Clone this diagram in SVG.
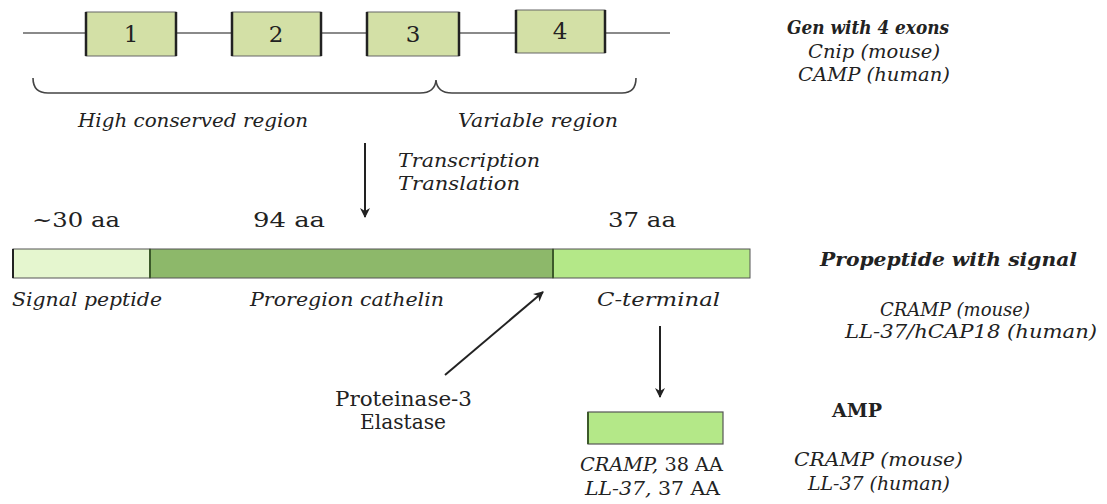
<svg xmlns="http://www.w3.org/2000/svg" width="1107" height="504" viewBox="0 0 1107 504">
<style>
  text { font-family: "DejaVu Serif", "Liberation Serif", serif; fill: #222; }
  .it { font-style: italic; font-size: 18px; }
  .bi { font-style: italic; font-weight: bold; font-size: 18px; }
  .rg { font-size: 20px; }
  .num { font-size: 23px; text-anchor: middle; }
  .exon { fill: #d3e0a6; stroke: #666; stroke-width: 1; }
  .edge { stroke: #222; stroke-width: 2.5; }
  .conn { stroke: #222; stroke-width: 2; fill: none; }
</style>
<defs>
  <marker id="ah" viewBox="0 0 10 10" refX="9" refY="5" markerWidth="5" markerHeight="5" orient="auto-start-reverse">
    <path d="M0,0 L10,5 L0,10 L3,5 z" fill="#222"/>
  </marker>
</defs>
<rect width="1107" height="504" fill="#fff"/>

<g id="gene">
  <line x1="23" y1="33" x2="670" y2="33" stroke="#8a8a8a" stroke-width="2"/>
</g>
<g id="exon1"><rect class="exon" x="86" y="12" width="90" height="44"/><line class="edge" x1="86" y1="12" x2="86" y2="56"/><line class="edge" x1="176" y1="12" x2="176" y2="56"/><text class="num" x="131" y="42">1</text></g>
<g id="exon2"><rect class="exon" x="232" y="12" width="89" height="44"/><line class="edge" x1="232" y1="12" x2="232" y2="56"/><line class="edge" x1="321" y1="12" x2="321" y2="56"/><text class="num" x="276" y="42">2</text></g>
<g id="exon3"><rect class="exon" x="367" y="12" width="92" height="44"/><line class="edge" x1="367" y1="12" x2="367" y2="56"/><line class="edge" x1="459" y1="12" x2="459" y2="56"/><text class="num" x="413" y="42">3</text></g>
<g id="exon4"><rect class="exon" x="516" y="10" width="89" height="43"/><line class="edge" x1="516" y1="10" x2="516" y2="53"/><line class="edge" x1="605" y1="10" x2="605" y2="53"/><text class="num" x="560" y="39">4</text></g>

<g id="brace" fill="none" stroke="#444" stroke-width="1.6">
  <path d="M33,78 Q33,93 48,93 L420,93 Q435,93 436,80 Q437,93 452,93 L622,93 Q636,93 636,78"/>
</g>

<g id="gene-labels">
  <text class="it" x="78" y="127" textLength="230" lengthAdjust="spacingAndGlyphs">High conserved region</text>
  <text class="it" x="458" y="127" textLength="160" lengthAdjust="spacingAndGlyphs">Variable region</text>
</g>

<g id="gene-info">
  <text class="bi" x="787" y="34" textLength="162" lengthAdjust="spacingAndGlyphs">Gen with 4 exons</text>
  <text class="it" x="808" y="58" textLength="132" lengthAdjust="spacingAndGlyphs">Cnip (mouse)</text>
  <text class="it" x="798" y="81" textLength="152" lengthAdjust="spacingAndGlyphs">CAMP (human)</text>
</g>

<g id="transcription">
  <text class="it" x="398" y="167" textLength="142" lengthAdjust="spacingAndGlyphs">Transcription</text>
  <text class="it" x="398" y="190" textLength="122" lengthAdjust="spacingAndGlyphs">Translation</text>
</g>

<g id="propeptide">
  <rect x="13" y="249" width="137" height="29" fill="#e5f6cf" stroke="#555" stroke-width="1"/>
  <rect x="150" y="249" width="403" height="29" fill="#8db86a" stroke="#555" stroke-width="1"/>
  <rect x="553" y="249" width="197" height="29" fill="#b4e888" stroke="#555" stroke-width="1"/>
  <line x1="13" y1="249" x2="13" y2="278" stroke="#222" stroke-width="2"/>
  <line x1="150" y1="249" x2="150" y2="278" stroke="#3c5a2a" stroke-width="2"/>
  <line x1="553" y1="249" x2="553" y2="278" stroke="#3c5a2a" stroke-width="2"/>
  <text class="rg" x="32" y="227" textLength="88" lengthAdjust="spacingAndGlyphs">~30 aa</text>
  <text class="rg" x="253" y="227" textLength="72" lengthAdjust="spacingAndGlyphs">94 aa</text>
  <text class="rg" x="608" y="227" textLength="68" lengthAdjust="spacingAndGlyphs">37 aa</text>
  <text class="it" x="12" y="306" textLength="150" lengthAdjust="spacingAndGlyphs">Signal peptide</text>
  <text class="it" x="250" y="306" textLength="194" lengthAdjust="spacingAndGlyphs">Proregion cathelin</text>
  <text class="it" x="597" y="306" textLength="123" lengthAdjust="spacingAndGlyphs">C-terminal</text>
</g>

<g id="propeptide-info">
  <text class="bi" x="820" y="266" textLength="257" lengthAdjust="spacingAndGlyphs">Propeptide with signal</text>
  <text class="it" x="880" y="316" textLength="150" lengthAdjust="spacingAndGlyphs">CRAMP (mouse)</text>
  <text class="it" x="845" y="338" textLength="252" lengthAdjust="spacingAndGlyphs">LL-37/hCAP18 (human)</text>
</g>

<g id="protease">
  <text class="rg" x="335" y="406" textLength="137" lengthAdjust="spacingAndGlyphs">Proteinase-3</text>
  <text class="rg" x="360" y="429" textLength="86" lengthAdjust="spacingAndGlyphs">Elastase</text>
</g>

<g id="amp">
  <rect x="588" y="412" width="135" height="32" fill="#b4e888" stroke="#555" stroke-width="1.2"/>
  <line x1="588" y1="412" x2="588" y2="444" stroke="#3c5a2a" stroke-width="2"/>
  <text x="580" y="471" textLength="143" lengthAdjust="spacingAndGlyphs" style="font-size:18px"><tspan font-style="italic">CRAMP,</tspan> 38 AA</text>
  <text x="585" y="495" textLength="135" lengthAdjust="spacingAndGlyphs" style="font-size:18px"><tspan font-style="italic">LL-37,</tspan> 37 AA</text>
</g>

<g id="amp-info">
  <text x="832" y="417" textLength="50" lengthAdjust="spacingAndGlyphs" style="font-size:18px;font-weight:bold">AMP</text>
  <text class="it" x="794" y="466" textLength="169" lengthAdjust="spacingAndGlyphs">CRAMP (mouse)</text>
  <text class="it" x="808" y="490" textLength="142" lengthAdjust="spacingAndGlyphs">LL-37 (human)</text>
</g>

<g id="connectors">
  <line class="conn" x1="365" y1="143" x2="365" y2="217" marker-end="url(#ah)"/>
  <line class="conn" x1="445" y1="375" x2="543" y2="292" marker-end="url(#ah)"/>
  <line class="conn" x1="660" y1="326" x2="660" y2="397" marker-end="url(#ah)"/>
</g>
</svg>
